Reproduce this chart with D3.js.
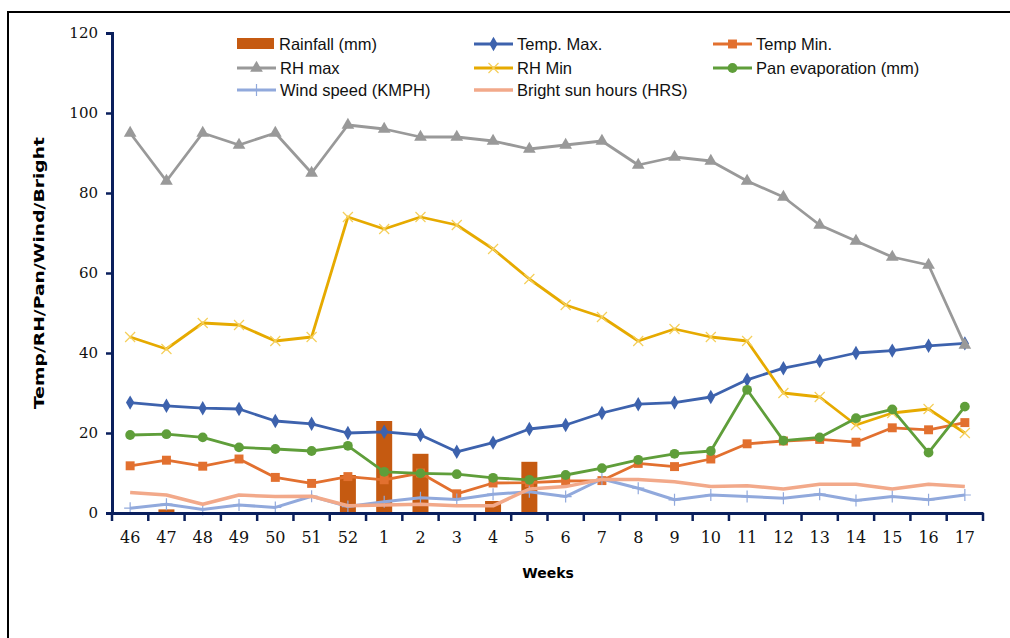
<!DOCTYPE html>
<html>
<head lang="en">
    <meta charset="UTF-8">
    <title>Weekly weather</title>
    <script src="https://cdnjs.cloudflare.com/ajax/libs/d3/7.8.5/d3.min.js" charset="utf-8"></script>
</head>
<body style="margin: 0; background: white">
<div id="chart"></div>
<script>

var weeks = ['46','47','48','49','50','51','52','1','2','3','4','5','6','7','8','9','10','11','12','13','14','15','16','17'];
var yTicks = [0, 20, 40, 60, 80, 100, 120];

var rainfall  = [0, 0.9, 0, 0, 0, 0, 9.5, 23, 14.8, 0, 3, 12.8, 0, 0, 0, 0, 0, 0, 0, 0, 0, 0, 0, 0];
var tempMax   = [27.6, 26.8, 26.2, 26, 23, 22.3, 20, 20.3, 19.5, 15.3, 17.6, 21, 22, 25, 27.2, 27.6, 29, 33.3, 36.2, 38, 40, 40.6, 41.8, 42.4];
var tempMin   = [11.8, 13.2, 11.7, 13.5, 8.9, 7.4, 9.1, 8.3, 10, 4.8, 7.5, 7.6, 8, 8.1, 12.4, 11.6, 13.5, 17.3, 18, 18.4, 17.7, 21.3, 20.8, 22.6];
var rhMax     = [95, 83, 95, 92, 95, 85, 97, 96, 94, 94, 93, 91, 92, 93, 87, 89, 88, 83, 79, 72, 68, 64, 62, 42];
var rhMin     = [44, 41, 47.5, 47, 43, 44, 74, 71, 74, 72, 66, 58.5, 52, 49, 43, 46, 44, 43, 30, 29, 22, 25, 26, 20];
var panEvap   = [19.5, 19.7, 18.9, 16.4, 16, 15.5, 16.8, 10.3, 9.9, 9.7, 8.8, 8.3, 9.5, 11.2, 13.3, 14.8, 15.5, 30.8, 18.1, 18.9, 23.7, 25.9, 15.1, 26.6];
var windSpeed = [1.2, 2.2, 0.9, 2, 1.4, 4.2, 1.6, 2.8, 3.8, 3.4, 4.7, 5.3, 4.1, 8.5, 6.2, 3.3, 4.5, 4.1, 3.7, 4.7, 3.1, 4.1, 3.3, 4.5];
var brightSun = [5.1, 4.5, 2.2, 4.5, 4.1, 4.2, 1.8, 2, 2.2, 1.8, 1.8, 6, 6.6, 8.4, 8.4, 7.8, 6.6, 6.8, 6, 7.2, 7.2, 6, 7.2, 6.6];

var lineSeries = [
    {name: 'Temp. Max.', values: tempMax, color: '#3d62ad', width: 2.8, marker: 'diamond'},
    {name: 'Temp Min.', values: tempMin, color: '#e2702f', width: 2.8, marker: 'square'},
    {name: 'RH max', values: rhMax, color: '#999999', width: 2.8, marker: 'triangle'},
    {name: 'RH Min', values: rhMin, color: '#e6aa00', width: 2.8, marker: 'cross'},
    {name: 'Pan evaporation (mm)', values: panEvap, color: '#5f9e3a', width: 2.8, marker: 'circle'},
    {name: 'Wind speed (KMPH)', values: windSpeed, color: '#91a9dc', width: 3, marker: 'plus'},
    {name: 'Bright sun hours (HRS)', values: brightSun, color: '#f2a98a', width: 3.5, marker: 'none'}
];

var width = 1010, height = 638;
var svg = d3.select('#chart').append('svg')
    .attr('width', width)
    .attr('height', height);

// outer frame
svg.append('rect')
    .attr('x', 8).attr('y', 12)
    .attr('width', 1010).attr('height', 640)
    .attr('fill', 'none').attr('stroke', '#000').attr('stroke-width', 2);

var x = d3.scaleBand().domain(weeks).range([112, 983]).padding(0);
var y = d3.scaleLinear().domain([0, 120]).range([513, 33]);
var axisColor = '#0a1f5c';

// rainfall bars
svg.append('g').selectAll('rect')
    .data(rainfall)
    .enter().append('rect')
    .attr('x', function(d, i) { return x(weeks[i]) + x.bandwidth() / 2 - 8; })
    .attr('width', 16)
    .attr('y', function(d) { return y(d); })
    .attr('height', function(d) { return y(0) - y(d); })
    .attr('fill', '#c55a11');

function drawMarker(g, type, color) {
    if (type === 'cross') {
        g.append('path').attr('d', 'M-5,-5L5,5M-5,5L5,-5')
            .attr('stroke', '#f5cf5a').attr('stroke-width', 1.2).attr('fill', 'none');
    } else if (type === 'plus') {
        g.append('path').attr('d', 'M-6,0L6,0M0,-6L0,6')
            .attr('stroke', color).attr('stroke-width', 1.2).attr('fill', 'none');
    } else if (type !== 'none') {
        var sym = {diamond: d3.symbolDiamond, square: d3.symbolSquare, triangle: d3.symbolTriangle, circle: d3.symbolCircle}[type];
        var size = {diamond: 60, square: 80, triangle: 70, circle: 75}[type];
        g.append('path').attr('d', d3.symbol().type(sym).size(size)()).attr('fill', color);
    }
}

var line = d3.line()
    .x(function(d, i) { return x(weeks[i]) + x.bandwidth() / 2; })
    .y(function(d) { return y(d); });

lineSeries.forEach(function(s) {
    var g = svg.append('g');
    g.append('path')
        .attr('d', line(s.values))
        .attr('fill', 'none')
        .attr('stroke', s.color)
        .attr('stroke-width', s.width)
        .attr('stroke-linejoin', 'round');
    s.values.forEach(function(v, i) {
        var m = g.append('g').attr('transform', 'translate(' + (x(weeks[i]) + x.bandwidth() / 2) + ',' + y(v) + ')');
        drawMarker(m, s.marker, s.color);
    });
});

// y axis
var yAxis = svg.append('g')
    .attr('transform', 'translate(112,0)')
    .call(d3.axisLeft(y).tickValues(yTicks).tickSize(6).tickPadding(8));
yAxis.select('.domain').attr('stroke', axisColor).attr('stroke-width', 3);
yAxis.selectAll('.tick line').attr('stroke', axisColor).attr('stroke-width', 2.5);
yAxis.selectAll('.tick text')
    .attr('font-family', 'DejaVu Serif').attr('font-size', 15).attr('fill', '#111');

// x axis
var xAxis = svg.append('g')
    .attr('transform', 'translate(0,513)')
    .call(d3.axisBottom(x).tickSize(0).tickPadding(19));
xAxis.select('.domain').attr('stroke', axisColor).attr('stroke-width', 3);
xAxis.selectAll('.tick text')
    .attr('font-family', 'DejaVu Serif').attr('font-size', 16).attr('fill', '#111');
xAxis.selectAll('.bound')
    .data(weeks.map(function(w) { return x(w); }).concat([x.range()[1]]))
    .enter().append('line')
    .attr('x1', function(d) { return d; }).attr('x2', function(d) { return d; })
    .attr('y1', 0).attr('y2', 8)
    .attr('stroke', axisColor).attr('stroke-width', 2.5);

// axis titles
svg.append('text')
    .attr('transform', 'translate(44,' + y(60) + ') rotate(-90)')
    .attr('text-anchor', 'middle')
    .attr('font-family', 'DejaVu Sans').attr('font-weight', 'bold').attr('font-size', 14)
    .attr('textLength', 272).attr('lengthAdjust', 'spacingAndGlyphs')
    .text('Temp/RH/Pan/Wind/Bright');

svg.append('text')
    .attr('x', 548).attr('y', 578)
    .attr('text-anchor', 'middle')
    .attr('font-family', 'DejaVu Sans').attr('font-weight', 'bold').attr('font-size', 14)
    .text('Weeks');

// legend
var legendItems = [{name: 'Rainfall (mm)', bar: true}].concat(lineSeries);
var colX = [237, 474, 713], rowY = [44, 68, 90];
legendItems.forEach(function(s, i) {
    var lx = colX[i % 3], ly = rowY[Math.floor(i / 3)];
    var g = svg.append('g').attr('transform', 'translate(' + lx + ',' + ly + ')');
    if (s.bar) {
        g.append('rect').attr('x', 0).attr('y', -6).attr('width', 37).attr('height', 11).attr('fill', '#c55a11');
    } else {
        g.append('line').attr('x1', 0).attr('x2', 39).attr('y1', 0).attr('y2', 0)
            .attr('stroke', s.color).attr('stroke-width', s.width);
        var m = g.append('g').attr('transform', 'translate(19.5,0)');
        drawMarker(m, s.marker, s.color);
    }
    g.append('text')
        .attr('x', s.bar ? 42 : 43).attr('y', 0).attr('dy', '0.35em')
        .attr('font-family', 'Liberation Sans').attr('font-size', 16.5).attr('fill', '#111')
        .text(s.name);
});

</script>
</body>
</html>
